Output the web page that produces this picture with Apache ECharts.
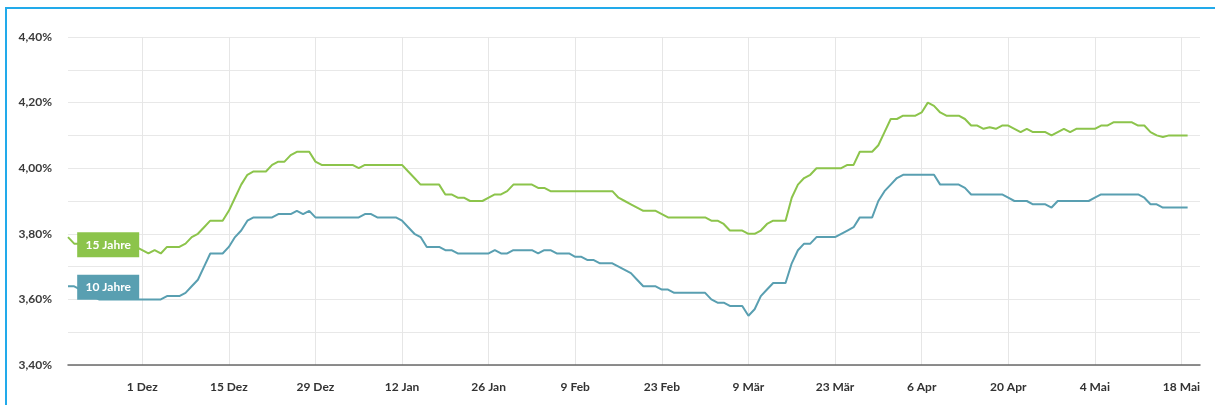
<!DOCTYPE html>
<html>
<head>
    <meta charset="utf-8">
    <title>Zinsentwicklung</title>
    <script src="https://cdn.jsdelivr.net/npm/echarts@6/dist/echarts.min.js"></script>
    <style type="text/css">
        html,
        body {
            margin: 0;
            padding: 0;
            width: 100%;
            height: 100%;
            background: #fff;
        }
    </style>
</head>
<body>
    <div id="zinsen" style="width: 1215px; height: 405px;"></div>

    <script type="text/javascript">
        // Tagesachse: 19.11.2024 bis 21.05.2025
        var firstDay = Date.UTC(2024, 10, 19);
        var dayCount = 184;

        var tickDates = ['2024-12-01', '2024-12-15', '2024-12-29', '2025-01-12', '2025-01-26', '2025-02-09',
            '2025-02-23', '2025-03-09', '2025-03-23', '2025-04-06', '2025-04-20', '2025-05-04', '2025-05-18'];
        var tickLabels = ['1 Dez', '15 Dez', '29 Dez', '12 Jan', '26 Jan', '9 Feb',
            '23 Feb', '9 Mär', '23 Mär', '6 Apr', '20 Apr', '4 Mai', '18 Mai'];

        var seriesNames = ['15 Jahre', '10 Jahre'];

        // 15 Jahre, ab 19.11.
        var rates15 = [
            3.79, 3.77, 3.77, 3.77, 3.76, 3.76, 3.76, 3.76, 3.76, 3.75,
            3.75, 3.76, 3.75, 3.74, 3.75, 3.74, 3.76, 3.76, 3.76, 3.77,
            3.79, 3.80, 3.82, 3.84, 3.84, 3.84, 3.87, 3.91, 3.95, 3.98,
            3.99, 3.99, 3.99, 4.01, 4.02, 4.02, 4.04, 4.05, 4.05, 4.05,
            4.02, 4.01, 4.01, 4.01, 4.01, 4.01, 4.01, 4.00, 4.01, 4.01,
            4.01, 4.01, 4.01, 4.01, 4.01, 3.99, 3.97, 3.95, 3.95, 3.95,
            3.95, 3.92, 3.92, 3.91, 3.91, 3.90, 3.90, 3.90, 3.91, 3.92,
            3.92, 3.93, 3.95, 3.95, 3.95, 3.95, 3.94, 3.94, 3.93, 3.93,
            3.93, 3.93, 3.93, 3.93, 3.93, 3.93, 3.93, 3.93, 3.93, 3.91,
            3.90, 3.89, 3.88, 3.87, 3.87, 3.87, 3.86, 3.85, 3.85, 3.85,
            3.85, 3.85, 3.85, 3.85, 3.84, 3.84, 3.83, 3.81, 3.81, 3.81,
            3.80, 3.80, 3.81, 3.83, 3.84, 3.84, 3.84, 3.91, 3.95, 3.97,
            3.98, 4.00, 4.00, 4.00, 4.00, 4.00, 4.01, 4.01, 4.05, 4.05,
            4.05, 4.07, 4.11, 4.15, 4.15, 4.16, 4.16, 4.16, 4.17, 4.20,
            4.19, 4.17, 4.16, 4.16, 4.16, 4.15, 4.13, 4.13, 4.12, 4.125,
            4.12, 4.13, 4.13, 4.12, 4.11, 4.12, 4.11, 4.11, 4.11, 4.10,
            4.11, 4.12, 4.11, 4.12, 4.12, 4.12, 4.12, 4.13, 4.13, 4.14,
            4.14, 4.14, 4.14, 4.13, 4.13, 4.11, 4.10, 4.095, 4.10, 4.10,
            4.10, 4.10
        ];

        // 10 Jahre, ab 19.11.
        var rates10 = [
            3.64, 3.64, 3.63, 3.62, 3.61, 3.60, 3.60, 3.60, 3.60, 3.60,
            3.60, 3.60, 3.60, 3.60, 3.60, 3.60, 3.61, 3.61, 3.61, 3.62,
            3.64, 3.66, 3.70, 3.74, 3.74, 3.74, 3.76, 3.79, 3.81, 3.84,
            3.85, 3.85, 3.85, 3.85, 3.86, 3.86, 3.86, 3.87, 3.86, 3.87,
            3.85, 3.85, 3.85, 3.85, 3.85, 3.85, 3.85, 3.85, 3.86, 3.86,
            3.85, 3.85, 3.85, 3.85, 3.84, 3.82, 3.80, 3.79, 3.76, 3.76,
            3.76, 3.75, 3.75, 3.74, 3.74, 3.74, 3.74, 3.74, 3.74, 3.75,
            3.74, 3.74, 3.75, 3.75, 3.75, 3.75, 3.74, 3.75, 3.75, 3.74,
            3.74, 3.74, 3.73, 3.73, 3.72, 3.72, 3.71, 3.71, 3.71, 3.70,
            3.69, 3.68, 3.66, 3.64, 3.64, 3.64, 3.63, 3.63, 3.62, 3.62,
            3.62, 3.62, 3.62, 3.62, 3.60, 3.59, 3.59, 3.58, 3.58, 3.58,
            3.55, 3.57, 3.61, 3.63, 3.65, 3.65, 3.65, 3.71, 3.75, 3.77,
            3.77, 3.79, 3.79, 3.79, 3.79, 3.80, 3.81, 3.82, 3.85, 3.85,
            3.85, 3.90, 3.93, 3.95, 3.97, 3.98, 3.98, 3.98, 3.98, 3.98,
            3.98, 3.95, 3.95, 3.95, 3.95, 3.94, 3.92, 3.92, 3.92, 3.92,
            3.92, 3.92, 3.91, 3.90, 3.90, 3.90, 3.89, 3.89, 3.89, 3.88,
            3.90, 3.90, 3.90, 3.90, 3.90, 3.90, 3.91, 3.92, 3.92, 3.92,
            3.92, 3.92, 3.92, 3.92, 3.91, 3.89, 3.89, 3.88, 3.88, 3.88,
            3.88, 3.88
        ];

        var colors = ['#8cc44b', '#599fb1'];

        var dates = [];
        for (var i = 0; i < dayCount; i++) {
            dates.push(new Date(firstDay + i * 86400000).toISOString().slice(0, 10));
        }

        function isTick(idx, val) {
            return tickDates.indexOf(val) >= 0;
        }

        function nameBox(name, color, values) {
            return {
                symbol: 'rect',
                symbolSize: [62, 25],
                silent: true,
                data: [{
                    coord: [dates[1], values[1]],
                    symbolOffset: [34, 1],
                    itemStyle: { color: color },
                    label: {
                        show: true,
                        position: 'inside',
                        formatter: name,
                        color: '#fff',
                        fontFamily: 'Lato',
                        fontWeight: 'bold',
                        fontSize: 12
                    }
                }]
            };
        }

        var myChart = echarts.init(document.getElementById('zinsen'));

        var option = {
            animation: false,
            graphic: [{
                type: 'rect',
                silent: true,
                shape: { x: 6, y: 8, width: 1400, height: 600 },
                style: { fill: 'none', stroke: '#22aaea', lineWidth: 2 }
            }],
            grid: { left: 68, right: 15, top: 37, bottom: 40 },
            xAxis: {
                type: 'category',
                data: dates,
                boundaryGap: false,
                axisLine: { lineStyle: { color: '#6a6a6a', width: 1.5 } },
                axisTick: { show: false },
                axisLabel: {
                    interval: isTick,
                    margin: 16,
                    color: '#333',
                    fontFamily: 'Lato',
                    fontWeight: 'bold',
                    fontSize: 12,
                    formatter: function (val) {
                        return tickLabels[tickDates.indexOf(val)];
                    }
                },
                splitLine: {
                    show: true,
                    interval: isTick,
                    lineStyle: { color: '#e6e6e6', width: 1 }
                }
            },
            yAxis: {
                type: 'value',
                min: 3.4,
                max: 4.4,
                interval: 0.1,
                axisLine: { show: false },
                axisTick: { show: false },
                axisLabel: {
                    margin: 16,
                    color: '#3a3a3a',
                    fontFamily: 'Lato',
                    fontWeight: 'bold',
                    fontSize: 12,
                    formatter: function (v) {
                        if (Math.round(v * 100) % 20 !== 0) return '';
                        return v.toFixed(2).replace('.', ',') + '%';
                    }
                },
                splitLine: { lineStyle: { color: '#e8e8e8', width: 1 } }
            },
            series: [
                {
                    name: seriesNames[0],
                    type: 'line',
                    data: rates15,
                    showSymbol: false,
                    color: colors[0],
                    lineStyle: { width: 2 },
                    z: 3,
                    markPoint: nameBox(seriesNames[0], colors[0], rates15)
                },
                {
                    name: seriesNames[1],
                    type: 'line',
                    data: rates10,
                    showSymbol: false,
                    color: colors[1],
                    lineStyle: { width: 2 },
                    z: 2,
                    markPoint: nameBox(seriesNames[1], colors[1], rates10)
                }
            ]
        };
        myChart.setOption(option);
    </script>
</body>
</html>
